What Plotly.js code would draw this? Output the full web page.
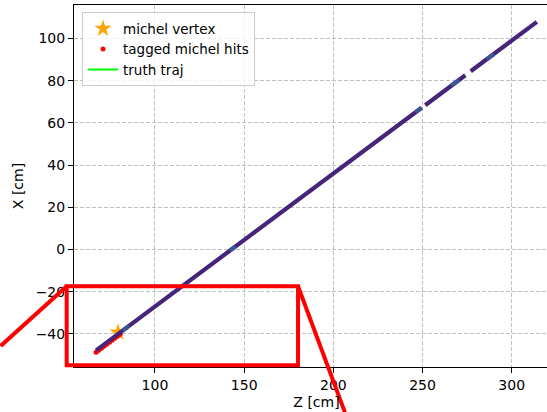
<!DOCTYPE html>
<html>
<head>
<meta charset="utf-8">
<script src="https://cdn.plot.ly/plotly-3.0.1.min.js"></script>
<style>
html,body{margin:0;padding:0;overflow:hidden;background:#fff;width:547px;height:412px;}
#chart{width:560px;height:412px;}
</style>
</head>
<body>
<div id="chart"></div>
<script>
// ---- data ----
// main track (hits), segments separated by gaps (null)
const trackZ = [67.0, 249.5, null, 251.5, 274.0, null, 277.0, 314.1];
const trackX = [-47.8, 67.2, null, 68.4, 82.6, null, 84.5, 107.9];
// lighter (higher-value) hit patches along the track
const patchZ = [82.0, 85.5, null, 142.0, 145.0, null, 246.0, 249.5, null, 266.0, 270.5, null, 286.0, 290.0];
const patchX = [-38.4, -36.2, null, -0.5, 1.4, null, 65.0, 67.2, null, 77.6, 80.4, null, 90.2, 92.7];
// tagged michel hits
const michelZ = [67.0, 68.5, 70.0, 71.5, 73.0, 74.5, 76.0, 77.5, 79.0, 80.5];
const michelX = [-48.7, -47.8, -46.8, -45.9, -44.9, -44.0, -43.0, -42.1, -41.1, -40.2];
// michel vertex
const vertexZ = [79.3];
const vertexX = [-39.3];
// truth trajectory
const truthZ = [67.0, 80.0];
const truthX = [-47.8, -39.6];
// zoom box (data coords) and connector end points
const boxZ = [50.5, 180.2];
const boxX = [-54.9, -17.4];
const connLeftEnd = [13.5, -45.7];
const connRightEnd = [206.5, -77.2];

const xRange = [54.6, 326.5];
const yRange = [-55.7, 115.9];

const font = "DejaVu Sans, Liberation Sans, sans-serif";

function px(z){ return (z - xRange[0]) / (xRange[1] - xRange[0]); }
function py(x){ return (x - yRange[0]) / (yRange[1] - yRange[0]); }

const traces = [
  {x: truthZ, y: truthX, mode: 'lines', name: 'truth traj',
   line: {color: '#00ff00', width: 2}, legendrank: 3},
  {x: vertexZ, y: vertexX, mode: 'markers', name: 'michel vertex',
   marker: {symbol: 'star', size: 13, color: '#ffa500'}, legendrank: 1},
  {x: michelZ, y: michelX, mode: 'markers', name: 'tagged michel hits',
   marker: {symbol: 'circle', size: 5, color: '#ff0000'}, legendrank: 2},
  {x: trackZ, y: trackX, mode: 'lines', showlegend: false, hoverinfo: 'skip',
   line: {color: '#47237a', width: 4.2}},
  {x: patchZ, y: patchX, mode: 'lines', showlegend: false, hoverinfo: 'skip',
   line: {color: '#3a5f96', width: 4.2}, opacity: 0.85}
];

const red = {color: '#ff0000', width: 4};
const shapes = [
  {type: 'rect', xref: 'paper', yref: 'paper',
   x0: px(boxZ[0]), x1: px(boxZ[1]), y0: py(boxX[0]), y1: py(boxX[1]), line: red},
  {type: 'line', xref: 'paper', yref: 'paper',
   x0: px(boxZ[0]), y0: py(boxX[1]), x1: px(connLeftEnd[0]), y1: py(connLeftEnd[1]), line: red},
  {type: 'line', xref: 'paper', yref: 'paper',
   x0: px(boxZ[1]), y0: py(boxX[1]), x1: px(connRightEnd[0]), y1: py(connRightEnd[1]), line: red}
];

const axisCommon = {
  showline: true, linecolor: '#000', linewidth: 1, mirror: true,
  ticks: 'outside', ticklen: 5, tickwidth: 1, tickcolor: '#000',
  showgrid: true, gridcolor: '#b0b0b0', griddash: '4px,2px', gridwidth: 0.8,
  zeroline: false, tickfont: {family: font, size: 14, color: '#000'}
};

const layout = {
  width: 560, height: 412,
  margin: {l: 74, r: 1, t: 5, b: 45},
  paper_bgcolor: '#fff', plot_bgcolor: '#fff',
  font: {family: font, size: 14, color: '#000'},
  xaxis: Object.assign({}, axisCommon, {
    range: xRange, dtick: 50, tick0: 0,
    title: {text: 'Z [cm]', font: {family: font, size: 14, color: '#000'}, standoff: 5}
  }),
  yaxis: Object.assign({}, axisCommon, {
    range: yRange, dtick: 20, tick0: 0,
    title: {text: 'X [cm]', font: {family: font, size: 14, color: '#000'}, standoff: 8}
  }),
  legend: {
    x: 0.0165, y: 0.98, xanchor: 'left', yanchor: 'top',
    bgcolor: 'rgba(255,255,255,0.8)', bordercolor: '#cccccc', borderwidth: 1,
    font: {family: font, size: 13.5, color: '#000'}
  },
  shapes: shapes,
  showlegend: true
};

Plotly.newPlot('chart', traces, layout, {staticPlot: true, displayModeBar: false});
</script>
</body>
</html>
